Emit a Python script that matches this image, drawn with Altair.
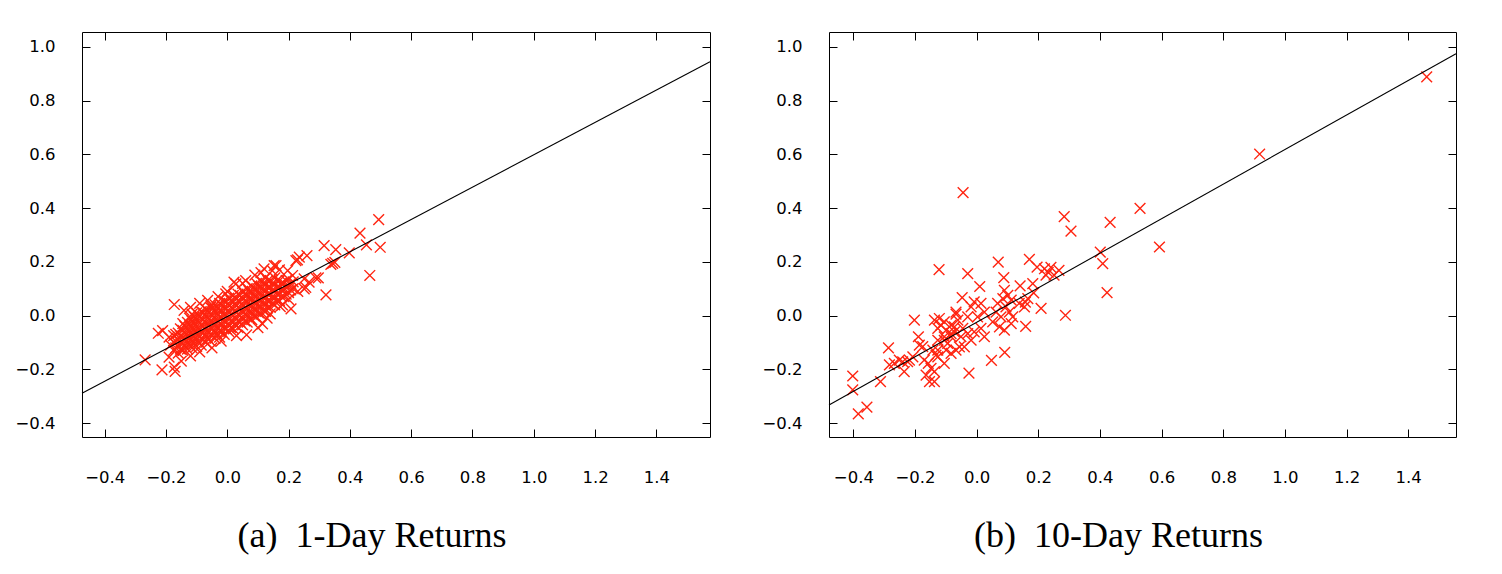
import altair as alt
import pandas as pd

# ---------------- data ----------------
x_ticks = [-0.4, -0.2, 0.0, 0.2, 0.4, 0.6, 0.8, 1.0, 1.2, 1.4]
y_ticks = [-0.4, -0.2, 0.0, 0.2, 0.4, 0.6, 0.8, 1.0]

captions = ["(a)\u20021-Day Returns", "(b)\u200210-Day Returns"]

# (a) 1-day returns: dense core of the cloud
day1_core = [
    (-0.175, -0.13), (-0.175, -0.10), (-0.175, -0.075),
    (-0.16, -0.14), (-0.16, -0.115), (-0.16, -0.09), (-0.16, -0.065),
    (-0.145, -0.13), (-0.145, -0.105), (-0.145, -0.08), (-0.145, -0.055), (-0.145, -0.03),
    (-0.13, -0.125), (-0.13, -0.10), (-0.13, -0.075), (-0.13, -0.05), (-0.13, -0.025),
    (-0.115, -0.12), (-0.115, -0.095), (-0.115, -0.07), (-0.115, -0.045), (-0.115, -0.02), (-0.115, 0.005),
    (-0.10, -0.115), (-0.10, -0.09), (-0.10, -0.065), (-0.10, -0.04), (-0.10, -0.015), (-0.10, 0.01),
    (-0.085, -0.11), (-0.085, -0.085), (-0.085, -0.06), (-0.085, -0.035), (-0.085, -0.01), (-0.085, 0.015),
    (-0.07, -0.10), (-0.07, -0.075), (-0.07, -0.05), (-0.07, -0.025), (-0.07, 0.0), (-0.07, 0.025),
    (-0.055, -0.095), (-0.055, -0.07), (-0.055, -0.045), (-0.055, -0.02), (-0.055, 0.005), (-0.055, 0.03),
    (-0.04, -0.085), (-0.04, -0.06), (-0.04, -0.035), (-0.04, -0.01), (-0.04, 0.015), (-0.04, 0.04),
    (-0.025, -0.08), (-0.025, -0.055), (-0.025, -0.03), (-0.025, -0.005), (-0.025, 0.02), (-0.025, 0.045),
    (-0.01, -0.07), (-0.01, -0.045), (-0.01, -0.02), (-0.01, 0.005), (-0.01, 0.03), (-0.01, 0.055),
    (0.005, -0.06), (0.005, -0.035), (0.005, -0.01), (0.005, 0.015), (0.005, 0.04), (0.005, 0.065),
    (0.02, -0.05), (0.02, -0.025), (0.02, 0.0), (0.02, 0.025), (0.02, 0.05), (0.02, 0.075),
    (0.035, -0.045), (0.035, -0.02), (0.035, 0.005), (0.035, 0.03), (0.035, 0.055), (0.035, 0.08),
    (0.05, -0.035), (0.05, -0.01), (0.05, 0.015), (0.05, 0.04), (0.05, 0.065), (0.05, 0.09),
    (0.065, -0.025), (0.065, 0.0), (0.065, 0.025), (0.065, 0.05), (0.065, 0.075), (0.065, 0.10),
    (0.08, -0.015), (0.08, 0.01), (0.08, 0.035), (0.08, 0.06), (0.08, 0.085), (0.08, 0.11),
    (0.095, -0.005), (0.095, 0.02), (0.095, 0.045), (0.095, 0.07), (0.095, 0.095), (0.095, 0.12),
    (0.11, 0.005), (0.11, 0.03), (0.11, 0.055), (0.11, 0.08), (0.11, 0.105), (0.11, 0.13),
    (0.125, 0.015), (0.125, 0.04), (0.125, 0.065), (0.125, 0.09), (0.125, 0.115), (0.125, 0.14),
    (0.14, 0.03), (0.14, 0.055), (0.14, 0.08), (0.14, 0.105), (0.14, 0.13),
    (0.155, 0.04), (0.155, 0.065), (0.155, 0.09), (0.155, 0.115), (0.155, 0.14),
    (0.17, 0.055), (0.17, 0.08), (0.17, 0.105), (0.17, 0.13),
    (0.185, 0.07), (0.185, 0.095), (0.185, 0.12),
    (0.20, 0.085), (0.20, 0.11), (0.20, 0.135),
    (0.215, 0.10), (0.215, 0.125),
]

# (a) 1-day returns: second, staggered layer of the dense core
day1_core_b = [
    (-0.168, -0.12), (-0.168, -0.095), (-0.168, -0.07),
    (-0.153, -0.125), (-0.153, -0.10), (-0.153, -0.075), (-0.153, -0.05),
    (-0.138, -0.115), (-0.138, -0.09), (-0.138, -0.065), (-0.138, -0.04),
    (-0.123, -0.11), (-0.123, -0.085), (-0.123, -0.06), (-0.123, -0.035), (-0.123, -0.01),
    (-0.108, -0.105), (-0.108, -0.08), (-0.108, -0.055), (-0.108, -0.03), (-0.108, -0.005),
    (-0.093, -0.10), (-0.093, -0.075), (-0.093, -0.05), (-0.093, -0.025), (-0.093, 0.0),
    (-0.078, -0.09), (-0.078, -0.065), (-0.078, -0.04), (-0.078, -0.015), (-0.078, 0.01),
    (-0.063, -0.085), (-0.063, -0.06), (-0.063, -0.035), (-0.063, -0.01), (-0.063, 0.015),
    (-0.048, -0.075), (-0.048, -0.05), (-0.048, -0.025), (-0.048, 0.0), (-0.048, 0.025),
    (-0.033, -0.07), (-0.033, -0.045), (-0.033, -0.02), (-0.033, 0.005), (-0.033, 0.03),
    (-0.018, -0.06), (-0.018, -0.035), (-0.018, -0.01), (-0.018, 0.015), (-0.018, 0.04),
    (-0.003, -0.05), (-0.003, -0.025), (-0.003, 0.0), (-0.003, 0.025), (-0.003, 0.05),
    (0.012, -0.045), (0.012, -0.02), (0.012, 0.005), (0.012, 0.03), (0.012, 0.055),
    (0.027, -0.035), (0.027, -0.01), (0.027, 0.015), (0.027, 0.04), (0.027, 0.065),
    (0.042, -0.025), (0.042, 0.0), (0.042, 0.025), (0.042, 0.05), (0.042, 0.075),
    (0.057, -0.02), (0.057, 0.005), (0.057, 0.03), (0.057, 0.055), (0.057, 0.08),
    (0.072, -0.01), (0.072, 0.015), (0.072, 0.04), (0.072, 0.065), (0.072, 0.09),
    (0.087, 0.0), (0.087, 0.025), (0.087, 0.05), (0.087, 0.075), (0.087, 0.10),
    (0.102, 0.01), (0.102, 0.035), (0.102, 0.06), (0.102, 0.085), (0.102, 0.11),
    (0.117, 0.02), (0.117, 0.045), (0.117, 0.07), (0.117, 0.095), (0.117, 0.12),
    (0.132, 0.03), (0.132, 0.055), (0.132, 0.08), (0.132, 0.105), (0.132, 0.13),
    (0.147, 0.045), (0.147, 0.07), (0.147, 0.095), (0.147, 0.12),
    (0.162, 0.055), (0.162, 0.08), (0.162, 0.105), (0.162, 0.13),
    (0.177, 0.07), (0.177, 0.095), (0.177, 0.12),
    (0.192, 0.08), (0.192, 0.105), (0.192, 0.13),
    (0.207, 0.095), (0.207, 0.12),
]

# (a) 1-day returns: scattered points around the core
day1_fringe = [
    (0.494, 0.357), (0.433, 0.307), (0.454, 0.263), (0.499, 0.254), (0.465, 0.149),
    (0.316, 0.260), (0.354, 0.245), (0.398, 0.233), (0.344, 0.194), (0.351, 0.198),
    (0.338, 0.190), (0.260, 0.223), (0.229, 0.207), (0.235, 0.217), (0.289, 0.140),
    (0.322, 0.077), (0.208, 0.025), (0.256, 0.105), (0.251, 0.099), (0.159, 0.186),
    (0.147, 0.167), (0.120, 0.174), (0.153, 0.186), (0.224, 0.204), (0.197, 0.167),
    (0.213, 0.149), (0.251, 0.136), (0.267, 0.124), (0.297, 0.140), (0.140, 0.006),
    (0.173, 0.033), (0.028, 0.118), (0.022, 0.124), (-0.005, 0.081), (-0.173, 0.041),
    (-0.225, -0.066), (-0.211, -0.056), (-0.268, -0.165), (-0.213, -0.202), (-0.170, -0.208),
    (-0.190, -0.155), (-0.173, -0.192), (0.063, -0.072), (0.115, -0.031), (-0.141, 0.019),
    (-0.064, 0.056), (-0.053, 0.037), (-0.120, 0.030), (-0.090, 0.045), (0.000, 0.090),
    (0.050, 0.120), (0.090, 0.150), (0.170, 0.170), (0.100, -0.045), (0.030, -0.075),
    (-0.050, -0.120), (-0.120, -0.150), (-0.150, -0.170), (0.180, 0.040), (0.230, 0.090),
    (0.200, 0.060), (-0.185, -0.110), (-0.190, -0.080), (-0.030, 0.070), (0.060, 0.130),
    (0.110, 0.160), (0.130, -0.010), (-0.020, -0.095), (-0.090, -0.135),
]

# (b) 10-day returns
day10_points = [
    (1.460, 0.888), (0.918, 0.601), (0.530, 0.399), (0.593, 0.255), (0.433, 0.347),
    (0.284, 0.368), (0.306, 0.314), (0.401, 0.236), (0.409, 0.193), (0.423, 0.085),
    (0.288, 0.001), (0.209, 0.027), (0.220, 0.174), (0.232, 0.161), (0.241, 0.179),
    (0.251, 0.150), (0.267, 0.168), (0.225, 0.150),
    (-0.044, 0.457), (-0.122, 0.171), (-0.029, 0.156), (0.070, 0.199), (0.171, 0.209),
    (0.196, 0.180), (0.088, 0.141), (0.010, 0.108), (0.141, 0.110), (-0.047, 0.067),
    (0.185, 0.084), (0.158, 0.050), (-0.202, -0.017), (-0.067, 0.005), (-0.189, -0.079),
    (-0.286, -0.120), (0.159, -0.040), (0.091, -0.137), (0.048, -0.167), (-0.025, -0.214),
    (-0.402, -0.225), (-0.402, -0.277), (-0.384, -0.366), (-0.356, -0.341), (-0.312, -0.246),
    (-0.283, -0.184), (-0.235, -0.209), (-0.240, -0.172), (-0.224, -0.172), (-0.186, -0.110),
    (-0.175, -0.116), (-0.170, -0.166), (-0.157, -0.178), (-0.148, -0.197), (-0.164, -0.222),
    (-0.153, -0.246), (-0.137, -0.246), (-0.137, -0.017), (-0.116, -0.036), (-0.142, -0.129),
    (-0.126, -0.154), (-0.105, -0.178), (-0.105, -0.079), (-0.094, -0.104), (-0.083, -0.067),
    (-0.072, -0.042), (-0.067, -0.129), (-0.056, -0.117), (-0.083, -0.141), (-0.218, -0.166),
    (-0.207, -0.154), (-0.251, -0.166), (-0.267, -0.178),
    (0.182, 0.119), (0.090, 0.094), (0.101, 0.075), (0.085, 0.063), (0.068, 0.045),
    (0.112, 0.057), (0.095, 0.032), (0.106, 0.013), (0.117, -0.005), (0.079, -0.005),
    (0.063, 0.013), (0.052, -0.024), (0.074, -0.042), (0.112, -0.030), (0.090, -0.054),
    (0.138, 0.045), (0.166, 0.063), (0.155, 0.032), (-0.008, 0.051), (-0.018, 0.032),
    (0.014, 0.045), (0.025, 0.013), (0.003, -0.005), (-0.029, -0.005), (-0.067, 0.013),
    (-0.061, -0.017), (-0.083, -0.036), (-0.105, -0.024), (-0.121, -0.011), (-0.126, -0.048),
    (-0.099, -0.054), (-0.072, -0.061), (-0.045, -0.048), (-0.029, -0.067), (-0.008, -0.061),
    (0.014, -0.048), (0.025, -0.079), (-0.018, -0.092), (-0.051, -0.079), (-0.083, -0.079),
    (-0.105, -0.092), (-0.126, -0.092), (-0.040, -0.117), (-0.099, -0.129), (-0.126, -0.129),
    (-0.132, -0.147), (-0.137, -0.209),
]

# regression lines (end points at the plot edges)
day1_line_x = [-0.474, 1.575]
day1_line_y = [-0.289, 0.944]
day10_line_x = [-0.479, 1.555]
day10_line_y = [-0.333, 0.974]

day1_x_domain = [-0.474, 1.575]
day10_x_domain = [-0.479, 1.555]
y_domain = [-0.452, 1.055]

# ---------------- styling ----------------
RED = "#ff2410"
X_SHAPE = "M-1,-1L1,1M-1,1L1,-1"
TICK_FONT = "DejaVu Sans"
CAPTION_FONT = "Liberation Serif"


def make_axis(orient, values, labels, pad):
    return alt.Axis(
        orient=orient, values=values, format=".1f", labels=labels,
        tickSize=8, offset=-8, domain=False, grid=False, ticks=True,
        tickColor="black", tickWidth=1, labelFont=TICK_FONT, labelFontSize=16.5,
        labelColor="black", labelPadding=pad, title=None,
        labelFlush=False, labelOverlap=False,
    )


def panel(points, lx, ly, xdom, caption, width):
    pts = pd.DataFrame(points, columns=["x", "y"])
    ln = pd.DataFrame({"x": lx, "y": ly})
    xs = alt.Scale(domain=xdom, nice=False, zero=False)
    ys = alt.Scale(domain=y_domain, nice=False, zero=False)
    scatter = alt.Chart(pts).mark_point(
        shape=X_SHAPE, size=115, filled=False, strokeWidth=1.4,
        color=RED, opacity=1,
    ).encode(
        x=alt.X("x:Q", scale=xs, axis=make_axis("bottom", x_ticks, True, 32)),
        y=alt.Y("y:Q", scale=ys, axis=make_axis("left", y_ticks, True, 27)),
    )
    line = alt.Chart(ln).mark_line(color="black", strokeWidth=1.1).encode(
        x=alt.X("x:Q", scale=xs, axis=make_axis("top", x_ticks, False, 0)),
        y=alt.Y("y:Q", scale=ys, axis=make_axis("right", y_ticks, False, 0)),
    )
    return alt.layer(scatter, line).resolve_axis(
        x="independent", y="independent"
    ).properties(
        width=width, height=405,
        title=alt.TitleParams(
            text=caption, orient="bottom", anchor="middle", frame="group",
            dx=-24, offset=33, font=CAPTION_FONT, fontSize=36,
            fontWeight="normal", color="black",
        ),
    )


left = panel(day1_core + day1_core_b + day1_fringe, day1_line_x, day1_line_y,
             day1_x_domain, captions[0], 628)
right = panel(day10_points, day10_line_x, day10_line_y,
              day10_x_domain, captions[1], 627)

chart = alt.hconcat(left, right, spacing=48).properties(
    padding={"left": 6, "top": 23, "right": 5, "bottom": 5},
    background="white",
).configure_view(stroke="black", strokeWidth=1)

chart.save("out.html", embed_options={"renderer": "svg", "actions": False})
